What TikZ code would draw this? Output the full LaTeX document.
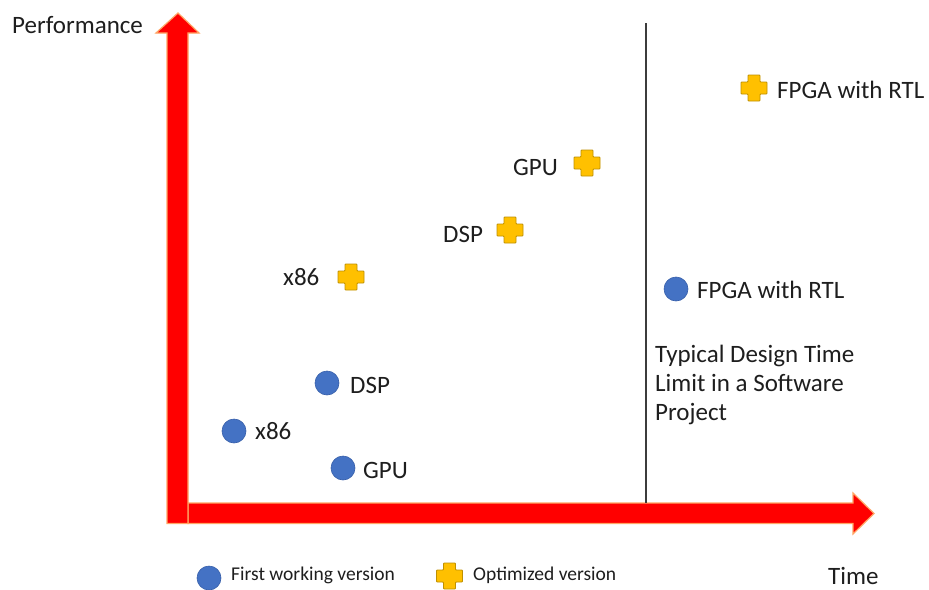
\documentclass[tikz,border=0pt]{standalone}
\usepackage{fontspec}
\setmainfont{Carlito}
\definecolor{axisred}{RGB}{255,0,0}
\definecolor{axisglow}{RGB}{255,165,100}
\definecolor{ptblue}{RGB}{68,114,196}
\definecolor{ptblueedge}{RGB}{55,95,170}
\definecolor{optyellow}{RGB}{255,192,0}
\definecolor{optedge}{RGB}{191,144,0}
\definecolor{txt}{RGB}{30,30,30}
\tikzset{
  bigtxt/.style={font=\fontsize{25}{29}\selectfont, text=txt, inner sep=0pt, anchor=base west},
  smalltxt/.style={font=\fontsize{19.5}{23}\selectfont, text=txt, inner sep=0pt, anchor=base west},
  firstpt/.style={circle, minimum size=24pt, inner sep=0pt, fill=ptblue, draw=ptblueedge, line width=0.6pt},
  axisarrow/.style={fill=axisred, draw=axisglow, line width=1.2pt, line join=miter},
  pics/optmark/.style={code={
    \filldraw[fill=optyellow, draw=optedge, line width=0.9pt, rounded corners=0.8pt]
      (-6,-13) -- (6,-13) -- (6,-6) -- (13,-6) -- (13,6) -- (6,6)
      -- (6,13) -- (-6,13) -- (-6,6) -- (-13,6) -- (-13,-6) -- (-6,-6) -- cycle;
  }}
}
\begin{document}
\begin{tikzpicture}[x=1pt, y=-1pt]
\useasboundingbox[fill=white] (0,0) rectangle (929,589);

% axes
\draw[axisarrow] (188,503) -- (853,503) -- (853,493) -- (874,513.5) -- (853,534) -- (853,523.5) -- (188,523.5) -- cycle;
\draw[axisarrow] (167,523.5) -- (167,33) -- (156,33) -- (178,13) -- (199,33) -- (188,33) -- (188,523.5) -- cycle;

\node[bigtxt] (perf) at (12,33) {Performance};
\node[bigtxt] (time) at (828,584) {Time};

% time limit line
\coordinate (limtop) at (646,23);
\coordinate (limbot) at (646,503);
\draw[line width=1.3pt, draw={rgb,255:red,60;green,60;blue,60}] (limtop) -- (limbot);
\node[bigtxt, align=left] (limit) at (655,420) {Typical Design Time\\Limit in a Software\\Project};

% first working versions
\node[firstpt] (b86) at (234,431) {};
\node[bigtxt] (b86l) at (255,439) {x86};
\node[firstpt] (bdsp) at (327,383) {};
\node[bigtxt] (bdspl) at (350,393) {DSP};
\node[firstpt] (bgpu) at (343,468) {};
\node[bigtxt] (bgpul) at (363,478) {GPU};
\node[firstpt] (bfpga) at (676,289) {};
\node[bigtxt] (bfpgal) at (697,298) {FPGA with RTL};

% optimized versions
\coordinate (y86) at (351,277);
\pic at (y86) {optmark};
\node[bigtxt] (y86l) at (283,285) {x86};
\coordinate (ydsp) at (510,230);
\pic at (ydsp) {optmark};
\node[bigtxt] (ydspl) at (443,242) {DSP};
\coordinate (ygpu) at (587,163);
\pic at (ygpu) {optmark};
\node[bigtxt] (ygpul) at (513,175) {GPU};
\coordinate (yfpga) at (754,88);
\pic at (yfpga) {optmark};
\node[bigtxt] (yfpgal) at (777,98) {FPGA with RTL};

% legend
\node[firstpt] (legb) at (209,578) {};
\node[smalltxt] (legbl) at (231,580) {First working version};
\coordinate (legy) at (449.5,576);
\pic at (legy) {optmark};
\node[smalltxt] (legyl) at (473,580) {Optimized version};
\end{tikzpicture}
\end{document}
